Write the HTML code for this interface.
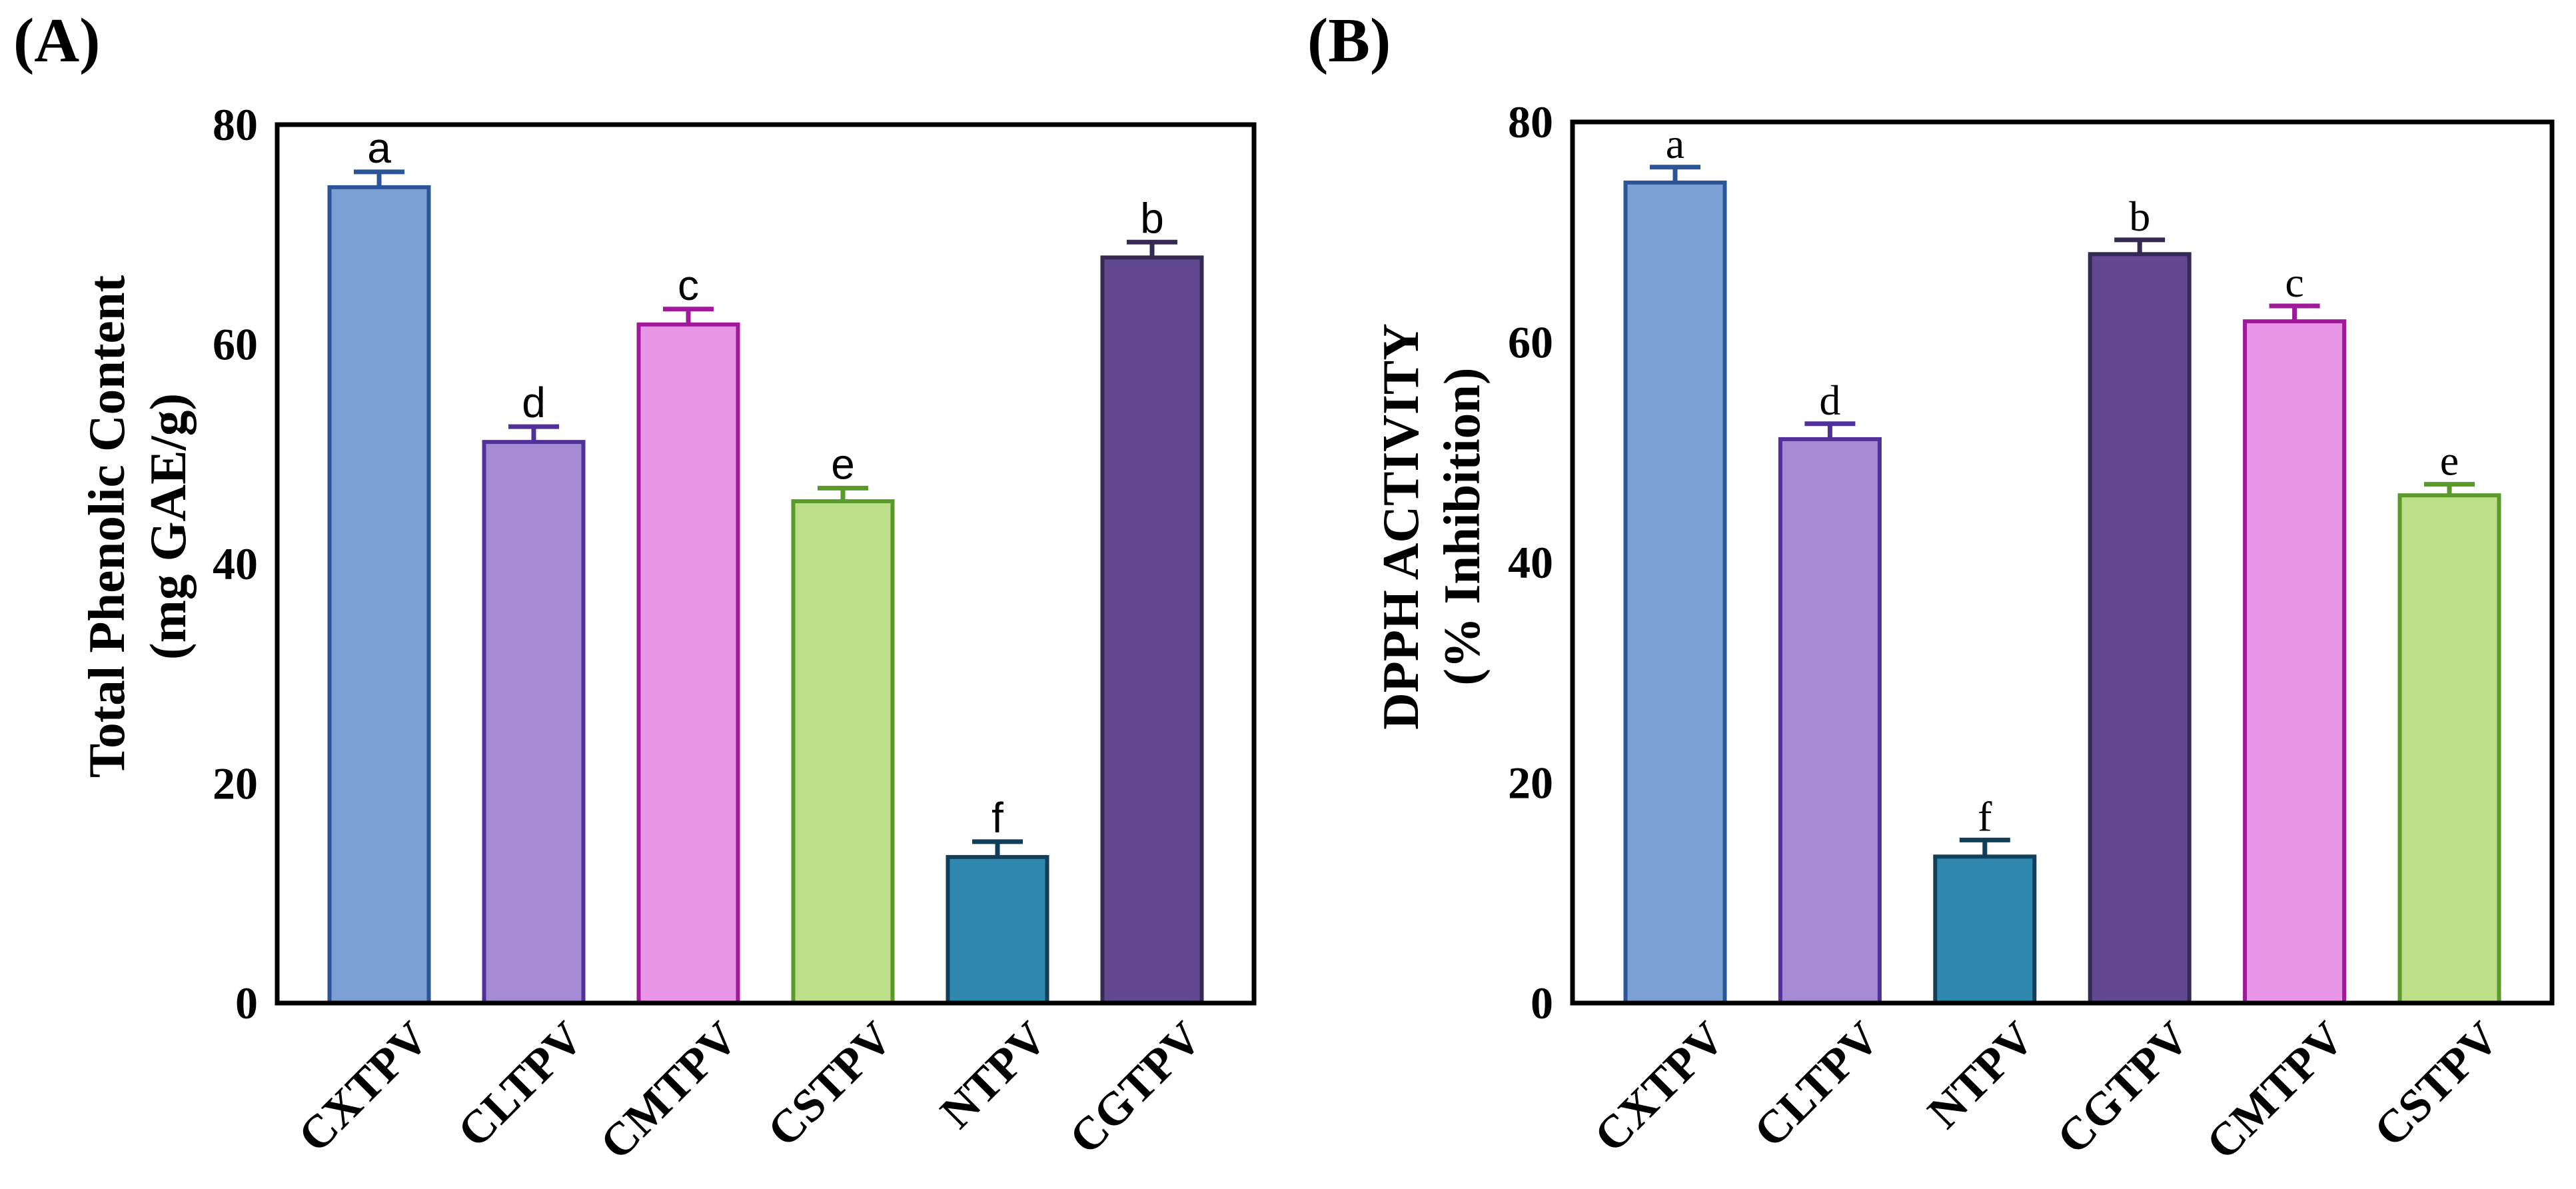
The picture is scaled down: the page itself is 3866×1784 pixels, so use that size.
<!DOCTYPE html>
<html><head><meta charset="utf-8">
<style>
html,body{margin:0;padding:0;background:#fff;}
svg{display:block;}
</style></head>
<body>
<svg id="fig" width="3866" height="1784" viewBox="0 0 3866 1784" xmlns="http://www.w3.org/2000/svg">
<rect width="3866" height="1784" fill="#fff"/>
<text x="20" y="92" font-family="Liberation Serif, serif" font-weight="bold" font-size="94">(A)</text>
<text x="1962" y="92" font-family="Liberation Serif, serif" font-weight="bold" font-size="94">(B)</text>
<g id="panelA"></g>
<g id="panelB"></g>
</svg>
<script>
const catsA = ["CXTPV","CLTPV","CMTPV","CSTPV","NTPV","CGTPV"];
const valsA = [74.3, 51.1, 61.8, 45.7, 13.3, 67.9];
const errsA = [1.4, 1.4, 1.4, 1.2, 1.4, 1.4];
const lettersA = ["a","d","c","e","f","b"];
const catsB = ["CXTPV","CLTPV","NTPV","CGTPV","CMTPV","CSTPV"];
const valsB = [74.5, 51.2, 13.3, 68.0, 61.9, 46.1];
const errsB = [1.4, 1.4, 1.5, 1.3, 1.4, 1.0];
const lettersB = ["a","d","f","b","c","e"];
const yTicks = [0, 20, 40, 60, 80];
const fills = {CXTPV:"#7da0d4",CLTPV:"#a58bd3",CMTPV:"#e995e8",CSTPV:"#bddf88",NTPV:"#2e88ae",CGTPV:"#624791"};
const strokes = {CXTPV:"#2b5597",CLTPV:"#50309a",CMTPV:"#a0199b",CSTPV:"#5a9a2a",NTPV:"#113f5a",CGTPV:"#352a52"};
const NS="http://www.w3.org/2000/svg";
function mk(parent, tag, attrs, txt){
  const e=document.createElementNS(NS,tag);
  for(const k in attrs) e.setAttribute(k,attrs[k]);
  if(txt!==undefined) e.textContent=txt;
  parent.appendChild(e); return e;
}
function draw(g, cfg, cats, vals, errs, letters){
  const {x0,x1,y0,y1,pad,letterFont,title1,title2,t1x,t2x,panel}=cfg;
  const ymax=80;
  const yS=v=>y0-(v/ymax)*(y0-y1);
  const step=(x1-x0-2*pad)/(cats.length-1);
  const xS=i=>x0+pad+i*step;
  const bw=149;
  cats.forEach((c,i)=>{
    const cx=xS(i), top=yS(vals[i]), capY=yS(vals[i]+errs[i]);
    const eb=mk(g,"line",{x1:cx,y1:top,x2:cx,y2:capY,stroke:strokes[c],"stroke-width":7});
    
    
    const cap=mk(g,"line",{x1:cx-38,y1:capY,x2:cx+38,y2:capY,stroke:strokes[c],"stroke-width":7});
    
    
    const r=mk(g,"rect",{x:cx-bw/2,y:top,width:bw,height:y0-top,fill:fills[c],stroke:strokes[c],"stroke-width":6});
    
    
    const lt=mk(g,"text",{x:cx,y:capY-14,"text-anchor":"middle","font-family":letterFont,"font-size":64,fill:"#000"},letters[i]);
    
    
    const bx=cx+78, by=1562;
    const xl=mk(g,"text",{x:bx,y:by,"text-anchor":"end","font-family":"Liberation Serif, serif","font-weight":"bold","font-size":70,transform:`rotate(-45 ${bx} ${by})`},c);
    
    
  });
  yTicks.forEach(t=>{
    const tl=mk(g,"text",{x:x0-29,y:yS(t)+23,"text-anchor":"end","font-family":"Liberation Serif, serif","font-weight":"bold","font-size":68},String(t));
    
    
  });
  const box=mk(g,"rect",{x:x0,y:y1,width:x1-x0,height:y0-y1,fill:"none",stroke:"#000","stroke-width":7});
  
  
  const cy=790;
  const a1=mk(g,"text",{x:t1x,y:cy,"text-anchor":"middle","font-family":"Liberation Serif, serif","font-weight":"bold","font-size":77,transform:`rotate(-90 ${t1x} ${cy})`,"dominant-baseline":"central"},title1);
  
  
  const a2=mk(g,"text",{x:t2x,y:cy,"text-anchor":"middle","font-family":"Liberation Serif, serif","font-weight":"bold","font-size":77,transform:`rotate(-90 ${t2x} ${cy})`,"dominant-baseline":"central"},title2);
  
  
}
draw(document.getElementById("panelA"),
 {x0:416,x1:1882,y0:1505,y1:187,pad:153,letterFont:"Liberation Sans, sans-serif",title1:"Total Phenolic Content",title2:"(mg GAE/g)",t1x:160,t2x:252,panel:"a"},
 catsA, valsA, errsA, lettersA);
draw(document.getElementById("panelB"),
 {x0:2360,x1:3830,y0:1505,y1:183,pad:154,letterFont:"Liberation Serif, serif",title1:"DPPH ACTIVITY",title2:"(% Inhibition)",t1x:2102,t2x:2194,panel:"b"},
 catsB, valsB, errsB, lettersB);
</script>
</body></html>
